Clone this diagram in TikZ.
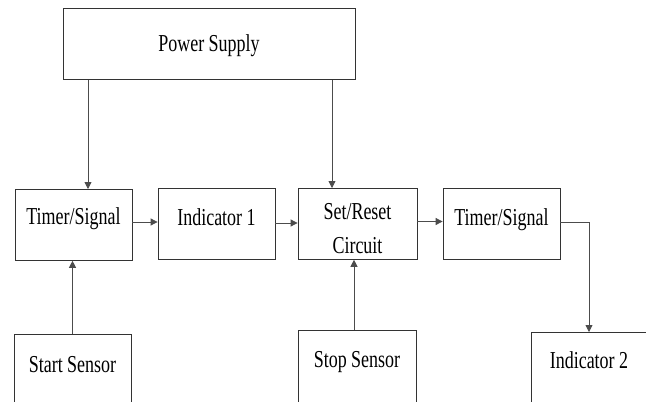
\documentclass[tikz,border=0pt]{standalone}
\usepackage{fontspec}
\setmainfont[FakeStretch=0.74]{Liberation Serif}
\usetikzlibrary{arrows.meta}
\begin{document}
\begin{tikzpicture}[x=1pt,y=-1pt,
  blk/.style={draw=black!80, line width=0.8pt, inner sep=0pt, anchor=north,
    font=\fontsize{24.3}{34}\selectfont},
  arr/.style={draw=black!70, line width=0.8pt, -{Triangle[length=7pt,width=7pt]}}]
\useasboundingbox (0,0) rectangle (646,402);
\clip (0,0) rectangle (646,402);
\fill[white] (0,0) rectangle (646,402);
% boxes
\node[blk, minimum width=292, text height=43.5, text depth=27.5] (pow) at (209,8) {Power Supply};
\node[blk, minimum width=117, text height=35, text depth=36] (t1) at (73.5,189) {Timer/Signal};
\node[blk, minimum width=117, text height=37, text depth=34] (ind1) at (216.5,188) {Indicator 1};
\node[blk, minimum width=119, text height=31, text depth=40] (sr) at (357.5,188)
  {\begin{tabular}[t]{@{}c@{}}Set/Reset\\Circuit\end{tabular}};
\node[blk, minimum width=117, text height=37, text depth=34] (t2) at (501.5,188) {Timer/Signal};
\node[blk, minimum width=117, text height=38, text depth=60] (start) at (72.5,334) {Start Sensor};
\node[blk, minimum width=118, text height=37, text depth=60] (stop) at (357,330) {Stop Sensor};
\node[blk, minimum width=116, text height=36, text depth=60] (ind2) at (589,332) {Indicator 2};
% connectors
\draw[arr] (88,0 |- pow.south) -- (88,0 |- t1.north);
\draw[arr] (332,0 |- pow.south) -- (332,0 |- sr.north);
\draw[arr] (start.north) -- (start.north |- t1.south);
\draw[arr] (354,0 |- stop.north) -- (354,0 |- sr.south);
\draw[arr] (t1.east |- 0,222) -- (ind1.west |- 0,222);
\draw[arr] (ind1.east |- 0,223) -- (sr.west |- 0,223);
\draw[arr] (sr.east |- 0,221.5) -- (t2.west |- 0,221.5);
\draw[arr] (t2.east |- 0,222) -| (ind2.north);
\end{tikzpicture}
\end{document}
